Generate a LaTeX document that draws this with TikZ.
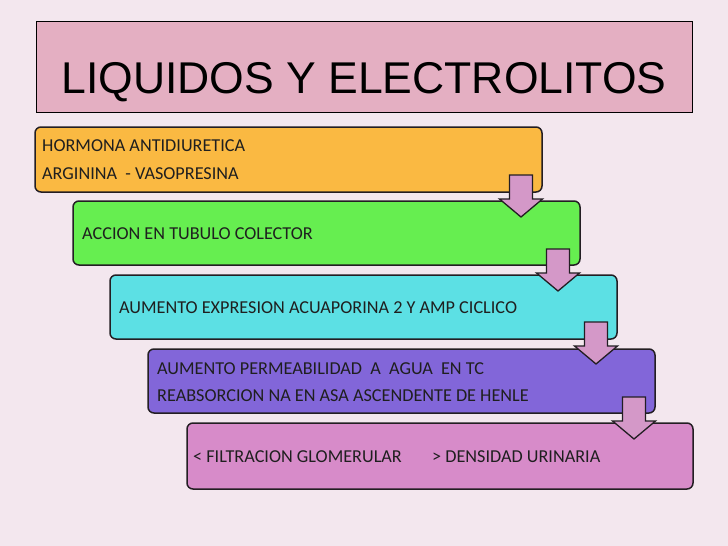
\documentclass[tikz,border=0pt]{standalone}
\usepackage{fontspec}
\setmainfont{Carlito}
\newfontfamily\titlefont{Liberation Sans}
\definecolor{bgc}{RGB}{243,231,238}
\definecolor{titlec}{RGB}{228,175,194}
\definecolor{orangec}{RGB}{250,185,66}
\definecolor{greenc}{RGB}{102,238,80}
\definecolor{cyanc}{RGB}{92,224,228}
\definecolor{purplec}{RGB}{130,102,217}
\definecolor{pinkc}{RGB}{215,139,201}
\definecolor{arrowc}{RGB}{212,152,200}
\definecolor{edgec}{RGB}{35,30,35}
\tikzset{
  stepbox/.style={draw=edgec, line width=1.5pt, rounded corners=6pt},
  boxtext/.style={anchor=base west, inner sep=0pt, text=black!88, font=\fontsize{18.2}{20}\selectfont},
  downarrow/.style={draw=edgec, line width=1.3pt, fill=arrowc, line join=miter}
}
\newcommand{\blockarrow}[2]{% tip x, tip y
  \draw[downarrow] (#1-11.5,#2-42) -- (#1+11.5,#2-42) -- (#1+11.5,#2-18) -- (#1+21.5,#2-18)
    -- (#1,#2) -- (#1-21.5,#2-18) -- (#1-11.5,#2-18) -- cycle;
}
\begin{document}
\begin{tikzpicture}[x=1pt,y=-1pt]
\fill[bgc] (0,0) rectangle (728,546);
\useasboundingbox (0,0) rectangle (728,546);
% title
\draw[fill=titlec, draw=black, line width=0.9pt] (36,21) rectangle (692,112);
\node (title) [anchor=base, inner sep=0pt, font=\titlefont\fontsize{44.5}{45}\selectfont] at (364,93) {LIQUIDOS Y ELECTROLITOS};
% boxes
\draw[stepbox, fill=orangec] (35,127) rectangle (542,192);
\draw[stepbox, fill=greenc] (73,201) rectangle (580,265);
\draw[stepbox, fill=cyanc] (110,275) rectangle (617,339);
\draw[stepbox, fill=purplec] (148,349) rectangle (655,413);
\draw[stepbox, fill=pinkc] (187,423) rectangle (693,489);
% texts
\node (t1a) [boxtext] at (42,151) {HORMONA ANTIDIURETICA};
\node (t1b) [boxtext] at (42,179) {ARGININA \ - VASOPRESINA};
\node (t2) [boxtext] at (82,239) {ACCION EN TUBULO COLECTOR};
\node (t3) [boxtext] at (119,313) {AUMENTO EXPRESION ACUAPORINA 2 Y AMP CICLICO};
\node (t4a) [boxtext] at (157,374) {AUMENTO PERMEABILIDAD \ A \ AGUA \ EN TC};
\node (t4b) [boxtext] at (157,401) {REABSORCION NA EN ASA ASCENDENTE DE HENLE};
\node (t5a) [boxtext] at (193,462) {< FILTRACION GLOMERULAR};
\node (t5b) [boxtext] at (432,462) {> DENSIDAD URINARIA};
% arrows
\blockarrow{521}{217}
\blockarrow{558}{291}
\blockarrow{596}{364}
\blockarrow{634}{439}
\end{tikzpicture}
\end{document}
